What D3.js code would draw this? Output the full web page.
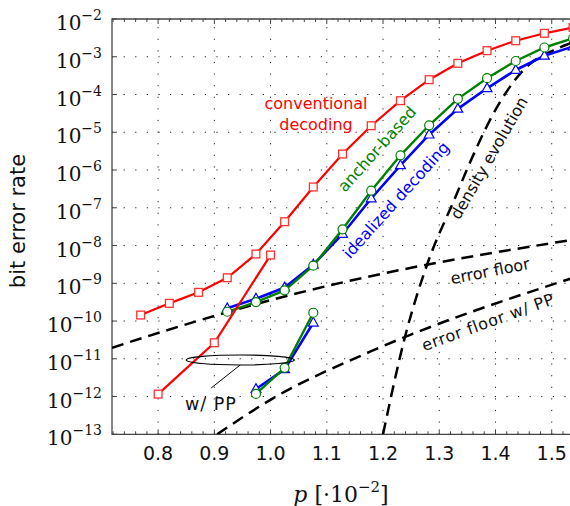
<!DOCTYPE html>
<html>
<head>
<meta charset="utf-8">
<script src="https://cdn.jsdelivr.net/npm/d3@7"></script>
<style>
  html, body { margin: 0; padding: 0; background: #fff; }
  svg { display: block; }
</style>
</head>
<body>
<svg id="chart" width="570" height="506"></svg>
<script>
// ---- data ----------------------------------------------------------------
// conventional decoding
const pConv   = [0.769, 0.820, 0.872, 0.923, 0.974, 1.025, 1.076, 1.128, 1.179, 1.231, 1.282, 1.333, 1.385, 1.436, 1.487, 1.538];
const berConv = [1.44e-10, 2.94e-10, 5.75e-10, 1.40e-9, 5.96e-9, 4.27e-8, 3.55e-7, 2.65e-6, 1.49e-5, 6.86e-5, 2.47e-4, 6.70e-4, 1.45e-3, 2.66e-3, 4.18e-3, 6.0e-3];
// conventional decoding with post-processing
const pConvPP   = [0.8, 0.9, 1.0];
const berConvPP = [1.16e-12, 2.66e-11, 5.60e-9];
// anchor-based decoding
const pAnchor   = [0.923, 0.974, 1.025, 1.076, 1.128, 1.179, 1.231, 1.282, 1.333, 1.385, 1.436, 1.487, 1.538];
const berAnchor = [1.76e-10, 3.18e-10, 6.50e-10, 2.92e-9, 2.69e-8, 2.83e-7, 2.45e-6, 1.53e-5, 7.69e-5, 2.70e-4, 7.71e-4, 1.76e-3, 3.08e-3];
// idealized decoding
const pIdeal   = [0.923, 0.974, 1.025, 1.076, 1.128, 1.179, 1.231, 1.282, 1.333, 1.385, 1.436, 1.487, 1.538];
const berIdeal = [2.17e-10, 3.90e-10, 7.71e-10, 3.10e-9, 2.02e-8, 1.76e-7, 1.33e-6, 8.61e-6, 4.18e-5, 1.46e-4, 4.46e-4, 1.06e-3, 1.87e-3];
// with post-processing
const pPP          = [0.974, 1.025, 1.076];
const berAnchorPP  = [1.17e-12, 5.75e-12, 1.66e-10];
const berIdealPP   = [1.58e-12, 5.25e-12, 9.02e-11];
// analytical curves
const pFloor     = [0.718, 0.875, 1.035, 1.230, 1.535];
const berFloor   = [1.96e-11, 1.06e-10, 4.89e-10, 2.24e-9, 1.40e-8];
const pFloorPP   = [0.905, 1.005, 1.177, 1.535];
const berFloorPP = [1.0e-13, 9.1e-13, 1.54e-11, 1.35e-9];
const pDE   = [1.200, 1.239, 1.280, 1.328, 1.355, 1.408, 1.461, 1.497, 1.534];
const berDE = [1.0e-13, 3.77e-11, 3.66e-9, 1.81e-7, 1.63e-6, 6.32e-5, 6.43e-4, 1.34e-3, 2.31e-3];
// ticks
const xTicks = [0.8, 0.9, 1.0, 1.1, 1.2, 1.3, 1.4, 1.5];
const xTickLabels = ["0.8", "0.9", "1.0", "1.1", "1.2", "1.3", "1.4", "1.5"];
const yExponents = [-2, -3, -4, -5, -6, -7, -8, -9, -10, -11, -12, -13];

// ---- layout --------------------------------------------------------------
const plotLeft = 112, plotTop = 19, plotRight = 571.4, plotBottom = 434.3;
const svg = d3.select("#chart");
const x = d3.scaleLinear().domain([0.718, 1.535]).range([plotLeft, plotRight]);
const y = d3.scaleLog().domain([1e-13, 1e-2]).range([plotBottom, plotTop]);

svg.append("clipPath").attr("id", "plotclip")
  .append("rect").attr("x", plotLeft).attr("y", plotTop)
  .attr("width", plotRight - plotLeft).attr("height", plotBottom - plotTop);

// grid
const grid = svg.append("g").attr("stroke", "#222").attr("stroke-width", 1)
  .attr("stroke-dasharray", "1.2 10.4");
xTicks.forEach(t => grid.append("line")
  .attr("x1", x(t)).attr("x2", x(t)).attr("y1", plotBottom).attr("y2", plotTop));
yExponents.forEach(e => grid.append("line")
  .attr("x1", plotLeft).attr("x2", plotRight).attr("y1", y(Math.pow(10, e))).attr("y2", y(Math.pow(10, e))));

// axis ticks (inward), minor every 0.02
const axisG = svg.append("g").attr("stroke", "#444").attr("stroke-width", 1);
d3.range(0.72, 1.535, 0.02).forEach(t => {
  const major = xTicks.some(v => Math.abs(v - t) < 1e-6);
  const len = major ? 5 : 3;
  axisG.append("line").attr("x1", x(t)).attr("x2", x(t)).attr("y1", plotBottom).attr("y2", plotBottom - len);
  axisG.append("line").attr("x1", x(t)).attr("x2", x(t)).attr("y1", plotTop).attr("y2", plotTop + len);
});
yExponents.forEach(e => axisG.append("line")
  .attr("x1", plotLeft).attr("x2", plotLeft + 5).attr("y1", y(Math.pow(10, e))).attr("y2", y(Math.pow(10, e))));

// axis lines
svg.append("path").attr("fill", "none").attr("stroke", "#444").attr("stroke-width", 1.3)
  .attr("d", `M${plotRight},${plotTop}H${plotLeft}V${plotBottom}H${plotRight}`);

// tick labels
xTicks.forEach((t, i) => svg.append("text")
  .attr("x", x(t)).attr("y", 460).attr("text-anchor", "middle")
  .attr("font-family", "DejaVu Sans").attr("font-size", 19).attr("fill", "#111")
  .text(xTickLabels[i]));
yExponents.forEach(e => {
  const tx = svg.append("text").attr("x", 102).attr("y", y(Math.pow(10, e)) + 11)
    .attr("text-anchor", "end").attr("font-family", "DejaVu Serif").attr("fill", "#111");
  tx.append("tspan").attr("font-size", 20).text("10");
  tx.append("tspan").attr("font-size", 14).attr("dy", -10).text("\u2212" + Math.abs(e));
});

// axis titles
svg.append("text").attr("transform", "translate(25,221) rotate(-90)")
  .attr("text-anchor", "middle").attr("font-family", "DejaVu Sans").attr("font-size", 21)
  .attr("fill", "#111").text("bit error rate");
const xl = svg.append("text").attr("x", (plotLeft + 570) / 2).attr("y", 502)
  .attr("text-anchor", "middle").attr("font-family", "DejaVu Serif").attr("fill", "#111");
xl.append("tspan").attr("font-size", 22).attr("font-style", "italic").text("p");
xl.append("tspan").attr("font-size", 22).text(" [\u00b710");
xl.append("tspan").attr("font-size", 15).attr("dy", -10).text("\u22122");
xl.append("tspan").attr("font-size", 22).attr("dy", 10).text("]");

// ---- curves --------------------------------------------------------------
const plot = svg.append("g").attr("clip-path", "url(#plotclip)");
const line = d3.line().x(d => x(d[0])).y(d => y(d[1]));
const smooth = d3.line().x(d => x(d[0])).y(d => y(d[1])).curve(d3.curveMonotoneX);
const zip = (a, b) => a.map((v, i) => [v, b[i]]);

function dashed(ps, bs) {
  plot.append("path").datum(zip(ps, bs)).attr("d", smooth)
    .attr("fill", "none").attr("stroke", "#000").attr("stroke-width", 2.5)
    .attr("stroke-dasharray", "12 7");
}
dashed(pFloor, berFloor);
dashed(pFloorPP, berFloorPP);
dashed(pDE, berDE);

function series(ps, bs, color, width, marker) {
  const pts = zip(ps, bs);
  plot.append("path").datum(pts).attr("d", line)
    .attr("fill", "none").attr("stroke", color).attr("stroke-width", width);
  const g = plot.append("g");
  pts.forEach(d => {
    const cx = x(d[0]), cy = y(d[1]);
    if (marker === "square") {
      g.append("rect").attr("x", cx - 3.9).attr("y", cy - 3.9).attr("width", 7.8).attr("height", 7.8)
        .attr("fill", "#fff").attr("stroke", "#ff3030").attr("stroke-width", 1.3);
    } else if (marker === "circle") {
      g.append("circle").attr("cx", cx).attr("cy", cy).attr("r", 4.5)
        .attr("fill", "#fff").attr("stroke", color).attr("stroke-width", 1.2);
    } else {
      g.append("path").attr("d", `M${cx},${cy - 5.4}L${cx + 4.9},${cy + 3.3}L${cx - 4.9},${cy + 3.3}Z`)
        .attr("fill", "#fff").attr("stroke", color).attr("stroke-width", 1.2);
    }
  });
}
series(pIdeal, berIdeal, "#0000ff", 2.6, "triangle");
series(pPP, berIdealPP, "#0000ff", 2.6, "triangle");
series(pAnchor, berAnchor, "#008000", 2.4, "circle");
series(pPP, berAnchorPP, "#008000", 2.4, "circle");
series(pConv, berConv, "#ff0000", 2.2, "square");
series(pConvPP, berConvPP, "#ff0000", 2.2, "square");

// ---- annotations ---------------------------------------------------------
const ann = svg.append("g").attr("font-family", "DejaVu Sans").attr("font-size", 16);
ann.append("text").attr("x", 316).attr("y", 109).attr("text-anchor", "middle").attr("fill", "#ff0000").text("conventional");
ann.append("text").attr("x", 316).attr("y", 130).attr("text-anchor", "middle").attr("fill", "#ff0000").text("decoding");
function rotated(txt, cx, cy, angle, color, letterSp) {
  ann.append("text").attr("transform", `translate(${cx},${cy}) rotate(${angle})`)
    .attr("text-anchor", "middle").attr("dy", "0.35em").attr("fill", color)
    .attr("letter-spacing", letterSp || 0).text(txt);
}
rotated("anchor-based", 377, 149, -48, "#008000");
rotated("idealized decoding", 396, 200, -48, "#0000ff");
rotated("density evolution", 489, 158, -60, "#111");
rotated("error floor", 490, 271, -11, "#111");
rotated("error floor w/ PP", 488, 322, -20, "#111", 0.7);

// post-processing group marker
const ecx = x(0.946), ecy = y(9.3e-12);
svg.append("ellipse").attr("cx", ecx).attr("cy", ecy).attr("rx", 54).attr("ry", 5)
  .attr("fill", "none").attr("stroke", "#000").attr("stroke-width", 1.2);
svg.append("line").attr("x1", ecx).attr("y1", ecy + 5).attr("x2", ecx - 29).attr("y2", ecy + 28)
  .attr("stroke", "#000").attr("stroke-width", 1);
ann.append("text").attr("x", 211).attr("y", 410).attr("text-anchor", "middle").attr("fill", "#111")
  .attr("font-size", 17.5).attr("letter-spacing", 1).text("w/ PP");
</script>
</body>
</html>
